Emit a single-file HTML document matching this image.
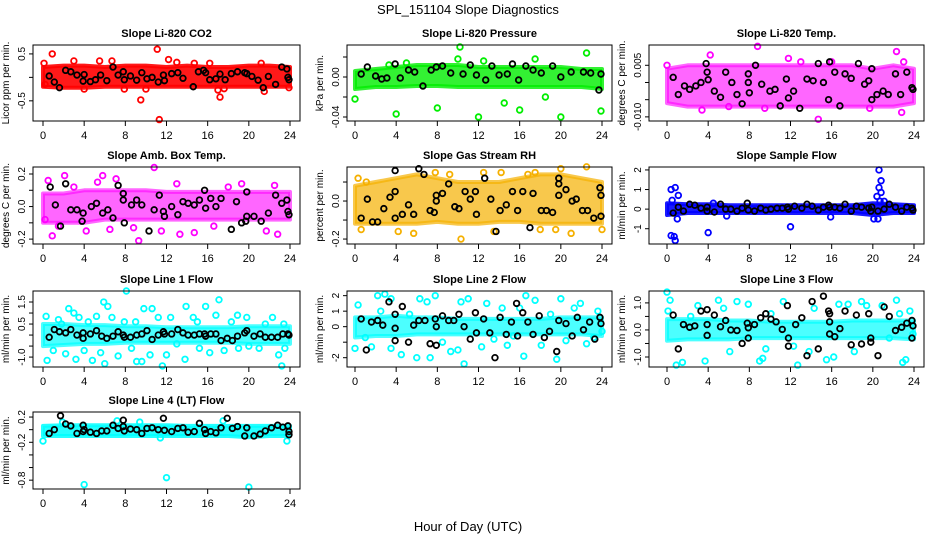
<!DOCTYPE html>
<html><head><meta charset="utf-8"><style>
html,body{margin:0;padding:0;background:#fff;}
svg{display:block;font-family:"Liberation Sans",sans-serif;}
</style></head><body>
<svg id="chart" width="936" height="540" viewBox="0 0 936 540">
<text x="468" y="14" text-anchor="middle" font-size="13">SPL_151104  Slope Diagnostics</text>
<text x="468" y="531" text-anchor="middle" font-size="13">Hour of Day (UTC)</text>
</svg>
<script>
const bandHours=[0,2,4,6,8,10,12,14,16,18,20,22,24];
const co2Lo=[-0.2,-0.22,-0.22,-0.2,-0.2,-0.2,-0.2,-0.2,-0.2,-0.2,-0.2,-0.2,-0.2];
const co2Hi=[0.22,0.25,0.25,0.22,0.25,0.25,0.22,0.25,0.22,0.22,0.25,0.25,0.22];
const co2Out=[[0.1,0.3],[0.9,0.5],[0.2,-0.15],[4,-0.25],[5.5,0.35],[6.7,0.35],[9.5,-0.48],[10,-0.25],[11.1,0.6],[11.3,-0.9],[12.2,0.38],[13,0.32],[14.7,0.3],[16.2,0.3],[17,-0.27],[17.2,-0.42],[17.6,-0.24],[21.2,0.3],[21.5,-0.3],[23.9,-0.22],[3,0.35],[7.9,-0.25]];
const co2Blk=[[0.6,0.03],[1.1,-0.1],[1.6,-0.22],[2.2,0.15],[2.7,0.12],[3.3,0.05],[3.9,-0.08],[4,0.06],[4.6,-0.09],[5.1,-0.05],[5.6,0.05],[6.2,-0.07],[6.8,0.22],[7.3,0.05],[7.8,0.12],[7.9,-0.05],[8.5,0.03],[9.1,-0.06],[9.6,0.1],[10.1,-0.03],[10.6,0],[11.2,-0.1],[11.7,0.05],[11.8,-0.07],[12.5,0.08],[13.1,0.1],[13.6,-0.02],[14.6,-0.2],[15.1,0.12],[15.6,0.15],[15.8,0.1],[16.2,-0.05],[16.8,-0.03],[17.2,0.07],[17.7,-0.05],[18.3,0.08],[18.9,0.12],[19.6,0.1],[19.8,0.08],[20.3,0.02],[20.9,-0.06],[21.4,-0.22],[21.9,0.02],[22.6,-0.15],[23.2,0.22],[23.7,0.18],[23.8,0],[23.9,-0.05]];

const prLo=[-0.012,-0.01,-0.01,-0.009,-0.009,-0.01,-0.01,-0.01,-0.01,-0.01,-0.01,-0.01,-0.012];
const prHi=[0.006,0.008,0.01,0.012,0.012,0.012,0.01,0.01,0.01,0.01,0.01,0.008,0.008];
const prOut=[[0,-0.022],[4,-0.037],[8,-0.031],[10.2,0.03],[12,-0.04],[20,-0.04],[23.9,-0.034],[3.3,0.012],[5,0.014],[16,-0.033],[14.5,-0.026],[18.5,-0.02],[22.5,0.024],[17.5,0.018],[10,0.018],[12.5,0.016]];
const prBlk=[[0.6,0.003],[1.2,0.01],[2,0.001],[2.6,-0.002],[3.1,-0.001],[3.9,0.013],[4.4,-0.001],[5.2,0.007],[5.8,0.005],[6.6,-0.009],[7.4,0.007],[7.9,0.01],[8.5,0.011],[9.3,0.004],[10.5,0.003],[11.2,0.012],[11.8,0.002],[12.7,-0.003],[13.3,0.011],[14,0.002],[14.8,0.003],[15.3,0.013],[15.9,-0.003],[16.6,0.011],[17.3,0.007],[18.1,0.004],[19.2,0.011],[20,0],[21,0.005],[22.2,0.005],[22.9,0.004],[23.7,-0.013],[23.9,0.003]];

const tpLo=[-0.006,-0.007,-0.007,-0.007,-0.007,-0.007,-0.007,-0.007,-0.007,-0.007,-0.007,-0.007,-0.006];
const tpHi=[0.004,0.005,0.005,0.005,0.005,0.005,0.005,0.005,0.005,0.005,0.004,0.005,0.004];
const tpOut=[[0,0.005],[8.8,0.0105],[3.4,-0.008],[14.7,-0.0107],[22.3,0.009],[22.8,-0.0087],[4.2,0.008],[11.8,0.007],[19.7,-0.0075],[16,0.006],[9.5,-0.0075],[23,0.006],[13,0.006],[6,-0.007]];
const tpBlk=[[0.6,0.0015],[1.1,-0.0035],[1.7,-0.001],[2.2,-0.002],[2.8,-0.001],[3.3,0],[3.8,0.0055],[3.9,0.003],[4,0.0008],[4.6,-0.0025],[5.2,-0.0043],[5.7,0.003],[6.3,0],[6.8,-0.0035],[7.3,-0.0062],[7.9,0.0025],[7.9,0],[8,-0.003],[8.6,0.005],[9.2,-0.0005],[10,-0.0025],[10.5,-0.002],[11,-0.0068],[11.6,0.001],[11.8,-0.0045],[12.3,-0.0025],[12.9,-0.0075],[13.6,0.001],[14.2,0.0005],[14.7,0.0055],[15.2,0],[15.7,-0.005],[15.8,0.006],[16.3,0.003],[16.8,-0.0068],[17.3,0.0025],[17.9,0.0012],[18.6,0.0055],[19.2,-0.0005],[19.6,0.0005],[19.9,-0.005],[19.9,0.004],[20.4,-0.0035],[21,-0.0025],[21.5,-0.0035],[22.2,0.0025],[22.7,-0.0035],[23.3,0.003],[23.8,-0.0015],[23.9,-0.002]];

const abLo=[-0.1,-0.1,-0.1,-0.08,-0.08,-0.08,-0.08,-0.08,-0.08,-0.08,-0.08,-0.08,-0.08];
const abHi=[0.08,0.08,0.1,0.1,0.1,0.1,0.09,0.09,0.09,0.09,0.09,0.09,0.09];
const abOut=[[0.5,0.16],[0.9,-0.18],[2.1,0.19],[4.2,-0.15],[5.3,0.15],[5.8,0.19],[7.1,0.17],[9.3,-0.21],[10.8,0.24],[13,0.14],[13.3,-0.17],[14.7,-0.16],[19.3,0.14],[21.7,-0.15],[22.5,0.13],[22.8,-0.17],[1.5,-0.12],[8.8,-0.13],[16.6,-0.12],[6.5,-0.14],[11.5,-0.15],[0.2,-0.08],[3,0.12],[18,0.12]];
const abBlk=[[0.7,0.12],[1.2,0.01],[1.7,-0.12],[2.2,0.14],[2.7,-0.02],[3.3,-0.02],[3.8,-0.09],[3.9,-0.04],[4.7,0],[5.2,0.02],[5.8,-0.04],[6.3,-0.02],[6.8,-0.07],[7.3,0.13],[7.8,0.08],[7.8,0.04],[7.9,-0.1],[8.6,0.01],[9.1,0.04],[9.6,0.01],[10.3,-0.15],[10.8,-0.02],[11.3,0.07],[11.7,-0.03],[11.8,-0.06],[12.5,0],[13.1,-0.05],[13.6,0.03],[14.1,0.02],[14.7,0.01],[15.2,0.04],[15.7,0.1],[15.8,-0.01],[16.3,0.05],[16.8,0],[17.3,0.05],[18.3,-0.14],[18.8,0.03],[19.3,-0.1],[19.7,-0.09],[19.8,0.09],[19.8,-0.06],[20.5,-0.06],[21.2,-0.09],[21.9,-0.04],[22.6,0.07],[23.2,0.02],[23.7,0.04],[23.8,-0.03],[23.9,-0.05]];

const rhLo=[-0.12,-0.12,-0.12,-0.12,-0.11,-0.12,-0.12,-0.11,-0.11,-0.12,-0.12,-0.12,-0.12];
const rhHi=[0.08,0.1,0.12,0.14,0.12,0.1,0.1,0.1,0.12,0.14,0.14,0.12,0.1];
const rhOut=[[0.3,0.12],[1.1,0.1],[0.6,-0.15],[4.2,-0.16],[5.7,-0.17],[7.8,0.15],[10.3,-0.2],[13.5,-0.16],[16.8,0.14],[17.5,0.15],[20,0.17],[21,-0.17],[24,-0.15],[12.5,0.15],[14.2,0.15],[18,-0.15],[19.5,-0.15],[22.5,0.18],[9.2,0.14]];
const rhBlk=[[0.6,-0.09],[1.2,0.01],[1.7,-0.11],[2.2,-0.11],[2.8,-0.04],[3.4,0.02],[3.9,0.16],[3.9,0.05],[3.9,-0.09],[4.6,-0.07],[5.2,-0.02],[5.7,-0.07],[6.2,0.17],[6.7,0.14],[7.3,-0.05],[7.7,-0.06],[7.9,0.03],[7.9,0],[8.5,0.04],[9.1,0.09],[9.7,-0.03],[10.1,-0.04],[10.7,0.05],[11.2,0.01],[11.7,0.05],[11.8,-0.07],[12.6,0.12],[13.2,0.01],[13.7,-0.16],[14.1,-0.05],[14.7,-0.02],[15.3,0.05],[15.8,-0.05],[16.3,0.05],[17,-0.14],[17.3,0.04],[18.1,-0.05],[18.6,-0.05],[19.2,-0.06],[19.8,0.12],[19.8,0.09],[19.8,0.03],[20.5,0.06],[21.1,0],[21.5,0.01],[22.1,-0.05],[22.6,-0.05],[23.2,-0.09],[23.8,0.07],[23.9,0.03],[23.9,-0.08]];

const sfLo=[-0.3,-0.2,-0.2,-0.2,-0.2,-0.2,-0.2,-0.2,-0.2,-0.2,-0.3,-0.2,-0.2];
const sfHi=[0.3,0.25,0.25,0.2,0.2,0.2,0.2,0.2,0.2,0.2,0.3,0.25,0.2];
const sfOut=[[0.4,1],[0.8,1.1],[1.1,0.7],[0.5,0.45],[0.4,-1.35],[0.7,-1.4],[0.8,-1.6],[1,-0.5],[4,-1.2],[12,-0.9],[15.9,-0.4],[20.6,2],[20.8,1.45],[20.6,1.1],[20.8,0.85],[20.4,0.65],[20.7,0.4],[21.1,0.4],[20.1,-0.5],[20.5,-0.5],[5.8,-0.35],[4.5,0.3]];
const sfBlk=[[0.6,-0.2],[1.1,0.1],[1.6,-0.1],[2.2,0.25],[2.7,0.2],[3.3,0.05],[3.9,0.1],[3.9,-0.1],[4.6,-0.15],[5.2,0.25],[5.7,0],[6.2,0],[6.8,-0.1],[7.3,0.05],[7.8,0.3],[7.9,-0.05],[8.5,-0.1],[9.1,0.05],[9.6,-0.05],[10.1,0],[10.7,0.05],[11.2,0.05],[11.7,0.1],[11.8,0],[12.4,0.15],[13.1,0.05],[13.6,0.25],[14.1,0.15],[14.7,-0.05],[15.2,0.1],[15.7,0.2],[15.8,0.1],[16.3,0.1],[16.8,0.05],[17.3,0.25],[17.9,-0.1],[18.4,0.15],[18.9,0.1],[19.6,0.05],[19.8,-0.1],[19.9,0.1],[20.5,-0.1],[21.1,0],[21.6,0.25],[22.2,0.1],[22.8,-0.1],[23.3,0.1],[23.8,0.05],[23.9,-0.05]];

const l1Lo=[-0.5,-0.45,-0.4,-0.4,-0.35,-0.35,-0.35,-0.35,-0.35,-0.35,-0.4,-0.4,-0.4];
const l1Hi=[0.5,0.5,0.45,0.45,0.4,0.4,0.35,0.35,0.35,0.35,0.4,0.4,0.4];
const l1Out=[[0.3,0.85],[0.4,-1.15],[1,-0.7],[1.5,0.7],[2.2,-0.85],[2.5,1.2],[3,1],[3.2,-1.1],[3.5,0.8],[4.4,0.6],[4.8,-1.15],[5.2,0.85],[5.6,-0.8],[5.9,1.5],[6,-1.3],[6.3,1.3],[6.7,0.8],[7.3,-0.95],[7.9,0.6],[8.1,2],[8.6,-0.6],[9.1,-1.2],[9.6,-1.2],[9.8,1.2],[10.4,-0.9],[10.6,1.2],[11.2,0.8],[11.6,-1.4],[12,-0.9],[12.4,0.8],[13,-0.4],[13.9,1.3],[13.8,-1.1],[14.6,0.8],[15.2,-0.6],[15.8,1.3],[16.2,-0.8],[16.8,0.9],[17.1,1.6],[17.6,-0.7],[18.3,0.6],[18.9,0.9],[19.8,0.8],[20,-0.5],[21,-0.6],[21.6,0.5],[22.3,0.8],[22.9,-0.9],[23.2,-1.4],[23.4,0.5],[23.5,-0.6],[1.8,0.5],[4,-0.7],[9,0.6],[15,0.6],[19,-0.6]];
const l1Blk=[[0.6,-0.1],[1.1,0.25],[1.6,0.15],[2.2,0.1],[2.7,0.25],[3.3,0],[3.9,0.1],[3.9,-0.15],[4.6,0.05],[5.2,0.2],[5.7,-0.05],[6.2,-0.15],[6.8,-0.05],[7.3,0.15],[7.8,0],[7.9,-0.1],[8.5,-0.1],[9.1,0],[9.6,0.05],[10.1,0.2],[10.6,-0.2],[11.2,0],[11.7,0.15],[11.8,0.05],[12.5,0.05],[13.1,0.25],[13.6,0.1],[14.1,0],[14.7,0],[15.2,0.05],[15.7,0.05],[15.8,-0.05],[16.3,0.05],[16.8,0.05],[17.3,-0.25],[17.9,-0.15],[18.4,-0.25],[18.9,-0.05],[19.6,0.1],[19.8,0.2],[20.5,-0.05],[21.1,0.05],[21.6,-0.1],[22.2,-0.1],[22.8,-0.1],[23.3,0.05],[23.8,0.05],[23.9,0]];

const l2Lo=[-0.7,-0.6,-0.6,-0.5,-0.5,-0.5,-0.5,-0.5,-0.5,-0.5,-0.5,-0.5,-0.6];
const l2Hi=[0.6,0.6,0.7,0.6,0.6,0.5,0.5,0.5,0.5,0.5,0.6,0.6,0.6];
const l2Out=[[0,-1.4],[0.3,1.4],[1,-0.7],[1.6,-1.3],[2.2,2],[2.5,1],[2.9,2.1],[3.5,1.8],[3.5,-1.4],[4.5,-1.8],[5.3,0.8],[6,-2],[6.3,1.8],[7,1.6],[7.3,-2],[7.8,2],[8.5,-1],[9.3,-1.6],[10,-1.5],[10.3,1.6],[10.6,-2.4],[11,1.8],[12.3,-1.3],[12.8,1.5],[13.5,-0.8],[14.3,1.2],[14.8,-1.2],[15.4,-0.6],[16,1.2],[16.4,-1.9],[16.6,2],[17.5,1.7],[18.1,-1.2],[19,0.8],[19.6,-2.1],[20,1.8],[20.5,-0.9],[21.3,1.2],[21.9,1.5],[22.5,-1.1],[23.2,-0.7],[23.6,1],[24,-0.3]];
const l2Blk=[[0.6,0.5],[1.1,-1.5],[1.6,0.3],[2.2,0.4],[2.7,0.1],[3.3,1.6],[3.9,0.8],[3.9,-0.1],[3.9,-0.9],[4.6,1.3],[5.2,-1],[5.7,0.1],[6.2,0.4],[6.8,0.4],[7.3,-1.1],[7.8,0.5],[7.9,-1.2],[7.9,0],[8.5,0.7],[9.1,0.4],[9.6,0.4],[10.1,0.8],[10.6,0],[11.2,-0.8],[11.7,0.9],[11.8,-0.4],[12.5,0.5],[13.1,-0.4],[13.6,-2],[14.1,0.6],[14.7,-0.5],[15.2,0.3],[15.7,1.5],[15.8,-0.6],[16.3,0.9],[16.8,0.3],[17.3,-0.5],[17.9,0.7],[18.4,-0.7],[18.9,-0.3],[19.6,-1.6],[19.8,0.4],[20.5,0.2],[21.1,-0.6],[21.6,0.6],[22.2,-0.2],[22.8,0.3],[23.3,-0.8],[23.8,0.6],[23.9,0.2]];

const l3Lo=[-0.4,-0.35,-0.35,-0.35,-0.3,-0.3,-0.3,-0.3,-0.3,-0.3,-0.3,-0.3,-0.35];
const l3Hi=[0.4,0.4,0.4,0.35,0.35,0.3,0.3,0.3,0.3,0.35,0.35,0.35,0.35];
const l3Out=[[0,1.4],[0.3,1.1],[0.1,0.7],[0.9,-1.3],[1.5,-1.2],[3.7,-1.15],[5,1.1],[5.5,0.8],[6.1,-0.8],[6.8,1.05],[7.9,0.95],[9,-1.15],[9.3,-1.05],[9.6,-0.7],[10.1,0.6],[11.3,1.05],[12.3,-0.6],[12.7,-1.3],[13.8,-0.8],[14.3,0.8],[15.5,-1.1],[16.2,-1],[16.7,0.95],[17.6,0.95],[18.2,-0.8],[18.9,1.05],[19.4,0.9],[20.9,0.9],[21.6,-0.3],[22.3,1.1],[22.6,0.6],[22.9,-1.2],[23.2,-1.1],[23.6,0.7],[23.9,-0.15],[3,0.9],[2.3,0.5]];
const l3Blk=[[0.6,0.55],[1.1,-0.7],[1.6,0.2],[2.2,0.1],[2.7,0.15],[3.3,0.7],[3.9,0.75],[3.9,0.2],[3.9,-0.2],[4.6,0.55],[5.2,0.12],[5.7,0.35],[6.2,0],[6.8,-0.02],[7.3,-0.5],[7.8,0.25],[7.9,0.08],[7.9,-0.3],[8.5,0.2],[9.1,0.45],[9.6,0.6],[10.1,0.4],[10.6,0.3],[11.2,0.02],[11.7,0.9],[11.8,-0.3],[11.8,-0.6],[12.5,0.2],[13.1,0.45],[13.6,-0.95],[14.1,1.05],[14.7,-0.7],[15.2,1.25],[15.7,0.7],[15.8,0.6],[15.8,0.3],[15.8,-0.15],[16.3,-0.25],[16.8,0.05],[17.3,0.7],[17.9,-0.55],[18.4,0.55],[18.9,-0.52],[19.6,0.6],[19.8,-0.3],[19.8,-0.45],[20.5,-0.95],[21.1,0.85],[21.6,0.5],[22.2,-0.02],[22.8,0.1],[23.3,0.25],[23.8,0.35],[23.9,0.15],[23.8,-0.3]];

const l4Lo=[-0.1,-0.1,-0.1,-0.1,-0.1,-0.1,-0.1,-0.1,-0.1,-0.1,-0.12,-0.1,-0.1];
const l4Hi=[0.06,0.07,0.07,0.07,0.07,0.07,0.07,0.06,0.06,0.06,0.06,0.06,0.06];
const l4Out=[[0,-0.18],[4,-0.87],[12,-0.76],[20,-0.91],[23.7,-0.18],[11.4,-0.13],[7.2,0.14],[9.4,0.12],[1.9,0.12],[17.5,0.14]];
const l4Blk=[[0.6,-0.06],[1.1,0],[1.7,0.22],[2.2,0.09],[2.7,0.06],[3.3,-0.06],[3.9,-0.03],[3.9,0.07],[4,0],[4.6,-0.04],[5.2,-0.06],[5.7,-0.02],[6.2,-0.02],[6.8,0.07],[7.3,0.02],[7.8,0.15],[7.8,0.05],[7.9,-0.02],[8.5,0.01],[9.1,0],[9.6,-0.06],[10.1,0.02],[10.6,0.03],[11.2,0],[11.7,0.18],[11.8,-0.01],[12.5,-0.03],[13.1,0.02],[13.6,0.03],[14.1,-0.04],[14.7,-0.03],[15.2,0.1],[15.7,0],[15.8,-0.06],[16.3,-0.03],[16.8,-0.05],[17.3,0.03],[17.9,0.18],[18.4,0.02],[18.9,0.05],[19.6,-0.1],[19.8,0.03],[20.5,-0.1],[21.1,-0.07],[21.6,-0.02],[22.2,0.03],[22.8,0.07],[23.3,0.04],[23.8,0.06],[23.9,-0.03],[23.9,-0.08]];

const xTicks=[0,4,8,12,16,20,24];

const cols=[{l:33,r:300,x0:43,x1:290},{l:347,r:612,x0:355,x1:602},{l:649,r:924,x0:667,x1:914}];
const rows=[{t:45,b:121},{t:167,b:244},{t:291,b:367},{t:412,b:489}];
const panels=[
 {name:'co2',title:'Slope Li-820 CO2',ylab:'Licor ppm per min.',c:0,r:0,ymax:0.69,ymin:-0.93,ticks:[-0.5,0,0.5],labels:['-0.5','','0.5'],col:'#ff0000',op:0.9,lo:co2Lo,hi:co2Hi,out:co2Out,blk:co2Blk},
 {name:'pressure',title:'Slope Li-820 Pressure',ylab:'kPa per min.',c:1,r:0,ymax:0.032,ymin:-0.044,ticks:[-0.04,-0.02,0,0.02],labels:['-0.04','','0.00',''],col:'#00ee00',op:0.8,lo:prLo,hi:prHi,out:prOut,blk:prBlk},
 {name:'li820-temp',title:'Slope Li-820 Temp.',ylab:'degrees C per min.',c:2,r:0,ymax:0.0109,ymin:-0.0112,ticks:[-0.01,-0.005,0,0.005],labels:['-0.010','','','0.005'],col:'#ff00ff',op:0.6,lo:tpLo,hi:tpHi,out:tpOut,blk:tpBlk},
 {name:'amb-box-temp',title:'Slope Amb. Box Temp.',ylab:'degrees C per min.',c:0,r:1,ymax:0.243,ymin:-0.23,ticks:[-0.2,-0.1,0,0.1,0.2],labels:['-0.2','','0.0','','0.2'],col:'#ff00ff',op:0.6,lo:abLo,hi:abHi,out:abOut,blk:abBlk},
 {name:'gas-stream-rh',title:'Slope Gas Stream RH',ylab:'percent per min.',c:1,r:1,ymax:0.179,ymin:-0.226,ticks:[-0.2,-0.1,0,0.1],labels:['-0.2','','0.0',''],col:'#f5b000',op:0.7,lo:rhLo,hi:rhHi,out:rhOut,blk:rhBlk},
 {name:'sample-flow',title:'Slope Sample Flow',ylab:'ml/min per min.',c:2,r:1,ymax:2.15,ymin:-1.78,ticks:[-1,0,1,2],labels:['-1','0','1','2'],col:'#0000ff',op:0.9,lo:sfLo,hi:sfHi,out:sfOut,blk:sfBlk},
 {name:'line1-flow',title:'Slope Line 1 Flow',ylab:'ml/min per min.',c:0,r:2,ymax:2.0,ymin:-1.45,ticks:[-1,-0.5,0,0.5,1,1.5],labels:['-1.0','','','0.5','','1.5'],col:'#00ffff',op:0.7,lo:l1Lo,hi:l1Hi,out:l1Out,blk:l1Blk},
 {name:'line2-flow',title:'Slope Line 2 Flow',ylab:'ml/min per min.',c:1,r:2,ymax:2.3,ymin:-2.6,ticks:[-2,-1,0,1,2],labels:['-2','','0','1','2'],col:'#00ffff',op:0.7,lo:l2Lo,hi:l2Hi,out:l2Out,blk:l2Blk},
 {name:'line3-flow',title:'Slope Line 3 Flow',ylab:'ml/min per min.',c:2,r:2,ymax:1.44,ymin:-1.37,ticks:[-1,-0.5,0,0.5,1],labels:['-1.0','','0.0','','1.0'],col:'#00ffff',op:0.7,lo:l3Lo,hi:l3Hi,out:l3Out,blk:l3Blk},
 {name:'line4-flow',title:'Slope Line 4 (LT) Flow',ylab:'ml/min per min.',c:0,r:3,ymax:0.28,ymin:-0.94,ticks:[-0.8,-0.6,-0.4,-0.2,0,0.2],labels:['-0.8','','','-0.2','','0.2'],col:'#00ffff',op:0.85,lo:l4Lo,hi:l4Hi,out:l4Out,blk:l4Blk}
];
const NS='http://www.w3.org/2000/svg';
const svg=document.getElementById('chart');
function mk(tag,attrs,parent){const e=document.createElementNS(NS,tag);for(const k in attrs)e.setAttribute(k,attrs[k]);(parent||svg).appendChild(e);return e;}
panels.forEach(p=>{
 const C=cols[p.c],R=rows[p.r];
 const g=mk('g',{});
 
 
 const xs=h=>C.x0+(C.x1-C.x0)*h/24;
 const ys=v=>R.t+(p.ymax-v)/(p.ymax-p.ymin)*(R.b-R.t);
 let d='';
 bandHours.forEach((h,i)=>{d+=(i?'L':'M')+xs(h).toFixed(1)+','+ys(p.hi[i]).toFixed(1);});
 for(let i=bandHours.length-1;i>=0;i--)d+='L'+xs(bandHours[i]).toFixed(1)+','+ys(p.lo[i]).toFixed(1);
 const band=mk('path',{d:d+'Z',fill:p.col,'fill-opacity':p.op,stroke:p.col,'stroke-opacity':p.op,'stroke-width':4,'stroke-linejoin':'round'},g);
 
 
 p.out.forEach(pt=>{
  const c=mk('circle',{cx:xs(pt[0]),cy:ys(pt[1]),r:2.8,fill:'none',stroke:p.col,'stroke-width':1.8},g);
  
  
 });
 p.blk.forEach(pt=>{
  const c=mk('circle',{cx:xs(pt[0]),cy:ys(pt[1]),r:2.8,fill:'none',stroke:'#000','stroke-width':1.8},g);
  
  
 });
 const box=mk('rect',{x:C.l,y:R.t,width:C.r-C.l,height:R.b-R.t,fill:'none',stroke:'#000','stroke-width':1},g);
 
 
 xTicks.forEach(h=>{
  mk('line',{x1:xs(h),x2:xs(h),y1:R.b,y2:R.b+5,stroke:'#000'},g);
  const t=mk('text',{x:xs(h),y:R.b+18,'text-anchor':'middle','font-size':11},g);
  t.textContent=h;
  
  
 });
 p.ticks.forEach((v,i)=>{
  const y=ys(v);
  mk('line',{x1:C.l-4,x2:C.l,y1:y,y2:y,stroke:'#000'},g);
  if(p.labels[i]){
   const t=mk('text',{x:0,y:0,'text-anchor':'middle','font-size':10,transform:`translate(${C.l-8},${y}) rotate(-90)`},g);
   t.textContent=p.labels[i];
   
   
  }
 });
 const tt=mk('text',{x:(C.l+C.r)/2,y:R.t-8,'text-anchor':'middle','font-size':11,'font-weight':'bold'},g);
 tt.textContent=p.title;
 
 
 const yl=mk('text',{x:0,y:0,'text-anchor':'middle','font-size':10,transform:`translate(${C.l-24},${(R.t+R.b)/2}) rotate(-90)`},g);
 yl.textContent=p.ylab;
 
 
});
</script>
</body></html>
